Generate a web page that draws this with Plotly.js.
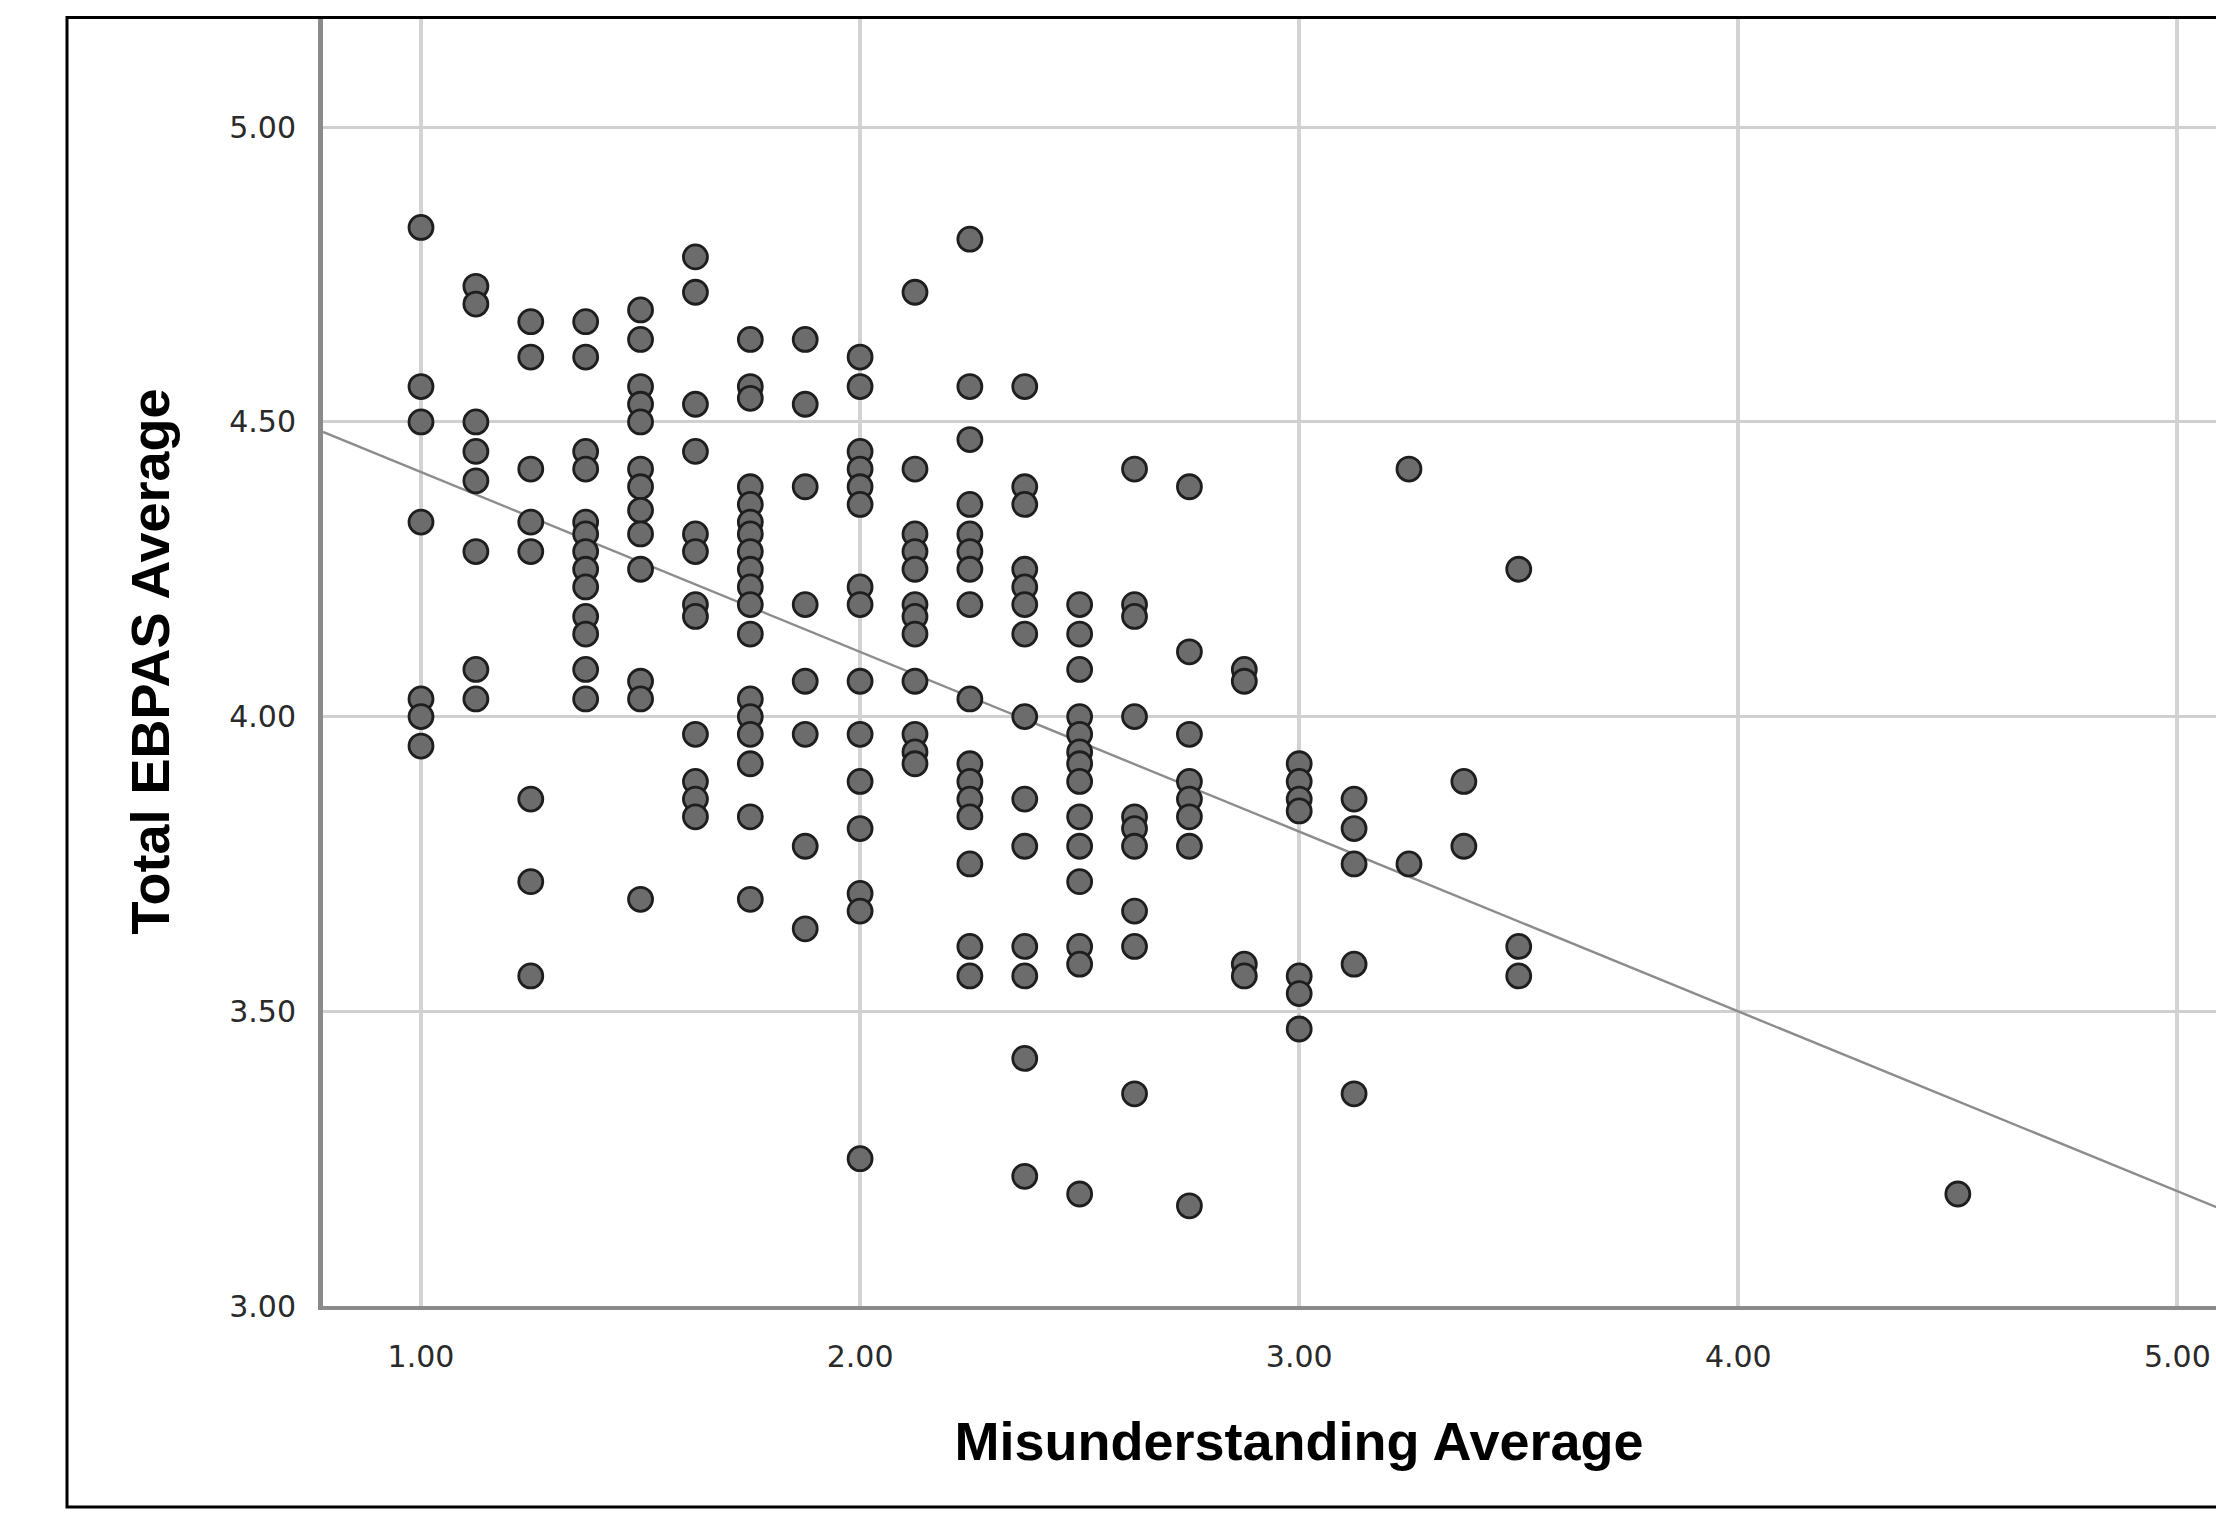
<!DOCTYPE html>
<html>
<head>
<meta charset="utf-8">
<script src="https://cdn.plot.ly/plotly-3.0.1.min.js"></script>
<style>
html,body{margin:0;padding:0;overflow:hidden;background:#fff;width:2216px;height:1517px}
#chart{width:2300px;height:1517px}
</style>
</head>
<body>
<div id="chart"></div>
<script>
// Misunderstanding Average levels (x) and Total EBPAS Average values (y) at each level
const misunderstandingLevels = [1.000, 1.125, 1.250, 1.375, 1.500, 1.625, 1.750, 1.875, 2.000, 2.125,
                                2.250, 2.375, 2.500, 2.625, 2.750, 2.875, 3.000, 3.125, 3.250, 3.375, 3.500, 4.500];
const ebpasAt100 = [4.83, 4.56, 4.50, 4.33, 4.03, 4.00, 3.95];
const ebpasAt1125 = [4.73, 4.70, 4.50, 4.45, 4.40, 4.28, 4.08, 4.03];
const ebpasAt125 = [4.67, 4.61, 4.42, 4.33, 4.28, 3.86, 3.72, 3.56];
const ebpasAt1375 = [4.67, 4.61, 4.45, 4.42, 4.33, 4.31, 4.28, 4.25, 4.22, 4.17, 4.14, 4.08, 4.03];
const ebpasAt150 = [4.69, 4.64, 4.56, 4.53, 4.50, 4.42, 4.39, 4.35, 4.31, 4.25, 4.06, 4.03, 3.69];
const ebpasAt1625 = [4.78, 4.72, 4.53, 4.45, 4.31, 4.28, 4.19, 4.17, 3.97, 3.89, 3.86, 3.83];
const ebpasAt175 = [4.64, 4.56, 4.54, 4.39, 4.36, 4.33, 4.31, 4.28, 4.25, 4.22, 4.19, 4.14, 4.03, 4.00, 3.97, 3.92, 3.83, 3.69];
const ebpasAt1875 = [4.64, 4.53, 4.39, 4.19, 4.06, 3.97, 3.78, 3.64];
const ebpasAt200 = [4.61, 4.56, 4.45, 4.42, 4.39, 4.36, 4.22, 4.19, 4.06, 3.97, 3.89, 3.81, 3.70, 3.67, 3.25];
const ebpasAt2125 = [4.72, 4.42, 4.31, 4.28, 4.25, 4.19, 4.17, 4.14, 4.06, 3.97, 3.94, 3.92];
const ebpasAt225 = [4.81, 4.56, 4.47, 4.36, 4.31, 4.28, 4.25, 4.19, 4.03, 3.92, 3.89, 3.86, 3.83, 3.75, 3.61, 3.56];
const ebpasAt2375 = [4.56, 4.39, 4.36, 4.25, 4.22, 4.19, 4.14, 4.00, 3.86, 3.78, 3.61, 3.56, 3.42, 3.22];
const ebpasAt250 = [4.19, 4.14, 4.08, 4.00, 3.97, 3.94, 3.92, 3.89, 3.83, 3.78, 3.72, 3.61, 3.58, 3.19];
const ebpasAt2625 = [4.42, 4.19, 4.17, 4.00, 3.83, 3.81, 3.78, 3.67, 3.61, 3.36];
const ebpasAt275 = [4.39, 4.11, 3.97, 3.89, 3.86, 3.83, 3.78, 3.17];
const ebpasAt2875 = [4.08, 4.06, 3.58, 3.56];
const ebpasAt300 = [3.92, 3.89, 3.86, 3.84, 3.56, 3.53, 3.47];
const ebpasAt3125 = [3.86, 3.81, 3.75, 3.58, 3.36];
const ebpasAt325 = [4.42, 3.75];
const ebpasAt3375 = [3.89, 3.78];
const ebpasAt350 = [4.25, 3.61, 3.56];
const ebpasAt450 = [3.19];
const ebpasByLevel = [ebpasAt100, ebpasAt1125, ebpasAt125, ebpasAt1375, ebpasAt150, ebpasAt1625, ebpasAt175,
                      ebpasAt1875, ebpasAt200, ebpasAt2125, ebpasAt225, ebpasAt2375, ebpasAt250, ebpasAt2625,
                      ebpasAt275, ebpasAt2875, ebpasAt300, ebpasAt3125, ebpasAt325, ebpasAt3375, ebpasAt350, ebpasAt450];

// Fit line end points
const fitLineX = [0.7768, 5.2223];
const fitLineY = [4.483, 3.127];

const xTickValues = [1, 2, 3, 4, 5];
const xTickLabels = ['1.00', '2.00', '3.00', '4.00', '5.00'];
const yTickValues = [3, 3.5, 4, 4.5, 5];
const yTickLabels = ['3.00', '3.50', '4.00', '4.50', '5.00'];
const xAxisTitle = 'Misunderstanding Average';
const yAxisTitle = 'Total EBPAS Average';

const xs = [], ys = [];
misunderstandingLevels.forEach((lv, i) => ebpasByLevel[i].forEach(v => { xs.push(lv); ys.push(v); }));

const W = 2300, H = 1517;
const mL = 323, mR = 25, mT = 17, mB = 211;
const pw = W - mL - mR, ph = H - mT - mB;

const traces = [
  {
    type: 'scatter', mode: 'lines', x: fitLineX, y: fitLineY,
    line: {color: '#8c8c8c', width: 2.4}, hoverinfo: 'skip', showlegend: false
  },
  {
    type: 'scatter', mode: 'markers', x: xs, y: ys,
    marker: {symbol: 'circle', size: 24, color: '#6c6c6c', line: {color: '#1e1e1e', width: 2.8}},
    showlegend: false
  }
];

const tickFont = {family: 'DejaVu Sans', size: 30, color: '#2a2a2a'};
const titleFont = {family: 'Liberation Sans, Arial, sans-serif', size: 54, color: '#000', weight: 'bold'};

const layout = {
  width: W, height: H,
  margin: {l: mL, r: mR, t: mT, b: mB, pad: 0},
  paper_bgcolor: '#fff', plot_bgcolor: '#fff',
  showlegend: false,
  xaxis: {
    range: [0.7768, 5.2223],
    tickvals: xTickValues, ticktext: xTickLabels,
    showgrid: true, gridcolor: '#d3d3d3', gridwidth: 4,
    zeroline: false, showline: true, linecolor: '#8a8a8a', linewidth: 4,
    ticks: '', ticklabelstandoff: 21, ticklabeloverflow: 'allow',
    tickfont: tickFont,
    title: {text: xAxisTitle, font: titleFont, standoff: 50}
  },
  yaxis: {
    range: [3.0, 5.187],
    tickvals: yTickValues, ticktext: yTickLabels,
    showgrid: true, gridcolor: '#d0d0d0', gridwidth: 3,
    zeroline: false, showline: true, linecolor: '#8a8a8a', linewidth: 5,
    ticks: '', ticklabelstandoff: 16,
    tickfont: tickFont,
    title: {text: yAxisTitle, font: titleFont, standoff: 44}
  },
  shapes: [{
    type: 'rect', xref: 'paper', yref: 'paper',
    x0: (67 - mL) / pw, x1: (2290 - mL) / pw,
    y0: (H - mB - 1507) / ph, y1: (H - mB - 17.5) / ph,
    line: {color: '#000', width: 3}, fillcolor: 'rgba(0,0,0,0)', layer: 'above'
  }]
};

Plotly.newPlot('chart', traces, layout, {staticPlot: true, displayModeBar: false});
</script>
</body>
</html>
